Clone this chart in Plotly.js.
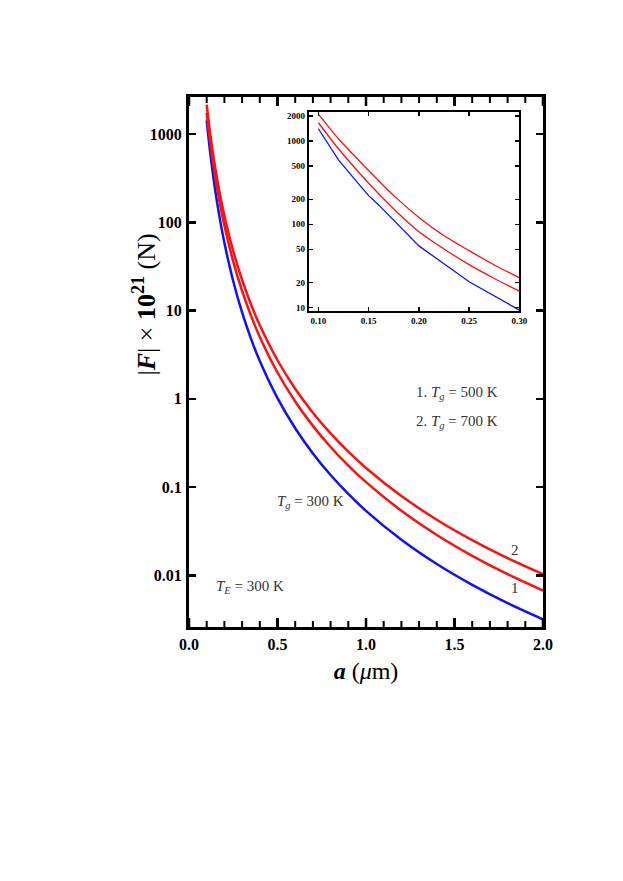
<!DOCTYPE html>
<html>
<head>
<meta charset="utf-8">
<script src="https://cdn.plot.ly/plotly-3.0.1.min.js"></script>
<style>
  html, body { margin: 0; padding: 0; background: #fff; }
  #chart { width: 623px; height: 881px; }
</style>
</head>
<body>
<div id="chart"></div>
<script>
// ---- main panel data: separation a (μm) and |F| x 10^21 (N) ----
const aMain = [0.10, 0.12, 0.14, 0.16, 0.18, 0.20, 0.25, 0.30, 0.35, 0.40, 0.50, 0.60, 0.70, 0.80, 0.90, 1.00, 1.20, 1.40, 1.60, 1.80, 2.00];
const fBlue300 = [1432, 611, 300, 162, 94.7, 58.7, 21.5, 9.53, 4.82, 2.68, 1.018, 0.4645, 0.241, 0.137, 0.0836, 0.0538, 0.0253, 0.01344, 0.00781, 0.00485, 0.00318];
const fRed500 = [1734, 798, 415, 236, 143, 91.9, 35.9, 16.7, 8.78, 5.03, 1.988, 0.934, 0.494, 0.2847, 0.1754, 0.1138, 0.0539, 0.0287, 0.01666, 0.01031, 0.00673];
const fRed700 = [2158, 1003, 526, 301, 184, 119, 47.2, 22.25, 11.8, 6.82, 2.737, 1.302, 0.697, 0.4055, 0.2522, 0.1648, 0.0792, 0.0427, 0.02505, 0.01566, 0.0103];

// ---- inset data ----
const aInsetBlue = [0.10, 0.12, 0.14, 0.15, 0.16, 0.18, 0.20, 0.25, 0.30];
const fInsetBlue = [1408, 596, 306, 221, 171, 96, 55, 20.4, 9.3];
const aInsetRed = [0.10, 0.12, 0.15, 0.175, 0.20, 0.225, 0.25, 0.275, 0.30];
const fInsetRed500 = [1663, 809, 312, 153, 81.6, 50.5, 32.7, 22.3, 15.7];
const fInsetRed700 = [2113, 1067, 443, 221, 121, 73, 48.2, 32.4, 22.7];

// ---- tick labels ----
const xMainTicks = [0, 0.5, 1.0, 1.5, 2.0];
const xMainTickText = ["0.0", "0.5", "1.0", "1.5", "2.0"];
const xMainMinor = [0.1, 0.2, 0.3, 0.4, 0.6, 0.7, 0.8, 0.9, 1.1, 1.2, 1.3, 1.4, 1.6, 1.7, 1.8, 1.9];
const yMainTicks = [0.01, 0.1, 1, 10, 100, 1000];
const yMainTickText = ["0.01", "0.1", "1", "10", "100", "1000"];
const xInsetTicks = [0.10, 0.15, 0.20, 0.25, 0.30];
const xInsetTickText = ["0.10", "0.15", "0.20", "0.25", "0.30"];
const yInsetTicks = [10, 20, 50, 100, 200, 500, 1000, 2000];
const yInsetTickText = ["10", "20", "50", "100", "200", "500", "1000", "2000"];

const BLUE = "#1010ff";
const RED = "#ff1010";
const serif = "Liberation Serif, DejaVu Serif, serif";
const lg = Math.log10;

// main axis ranges
const xRange = [0, 2];
const yRange = [lg(0.0026), lg(2630)];
const plotH = 881 - 97 - 254;
const decPx = plotH / (yRange[1] - yRange[0]);

// x tick marks along bottom and top edges, built from the tick arrays and the axis range
function tickTrace(vals, lenPx, w) {
  const xs = [], ys = [];
  const lo = Math.pow(10, yRange[0]), hi = Math.pow(10, yRange[1]);
  const k = Math.pow(10, lenPx / decPx);
  vals.forEach(v => {
    xs.push(v, v, null, v, v, null);
    ys.push(lo, lo * k, null, hi, hi / k, null);
  });
  return {x: xs, y: ys, mode: "lines", line: {color: "#000", width: w}, hoverinfo: "skip", cliponaxis: false, xaxis: "x", yaxis: "y"};
}

const traces = [
  {x: aMain, y: fBlue300, mode: "lines", line: {color: BLUE, width: 2.5, shape: "spline", smoothing: 1}, xaxis: "x", yaxis: "y"},
  {x: aMain, y: fRed500, mode: "lines", line: {color: RED, width: 2.5, shape: "spline", smoothing: 1}, xaxis: "x", yaxis: "y"},
  {x: aMain, y: fRed700, mode: "lines", line: {color: RED, width: 2.5, shape: "spline", smoothing: 1}, xaxis: "x", yaxis: "y"},
  tickTrace(xMainTicks, 9, 2.5),
  tickTrace(xMainMinor, 6, 2),
  {x: aInsetBlue, y: fInsetBlue, mode: "lines", line: {color: BLUE, width: 1.3}, xaxis: "x2", yaxis: "y2"},
  {x: aInsetRed, y: fInsetRed500, mode: "lines", line: {color: RED, width: 1.3, shape: "spline", smoothing: 0.6}, xaxis: "x2", yaxis: "y2"},
  {x: aInsetRed, y: fInsetRed700, mode: "lines", line: {color: RED, width: 1.3, shape: "spline", smoothing: 0.6}, xaxis: "x2", yaxis: "y2"}
];

const annFont = {family: serif, size: 15, color: "#333"};
const layout = {
  width: 623, height: 881,
  margin: {l: 189, r: 80, t: 97, b: 254},
  paper_bgcolor: "#fff", plot_bgcolor: "#fff",
  showlegend: false,
  xaxis: {
    domain: [0, 1], range: xRange,
    tickvals: xMainTicks, ticktext: xMainTickText,
    ticks: "inside", ticklen: 9, tickwidth: 2.5, tickcolor: "#000",
    showline: true, linewidth: 3, linecolor: "#000", mirror: "allticks",
    showgrid: false, zeroline: false,
    tickfont: {family: serif, size: 16, color: "#000", weight: "bold"},
    ticklabelstandoff: 1,
    title: {text: "<b><i>a</i></b> (<i>μ</i>m)", font: {family: serif, size: 24, color: "#000"}, standoff: 10}
  },
  yaxis: {
    domain: [0, 1], type: "log", range: yRange,
    tickvals: yMainTicks, ticktext: yMainTickText,
    ticks: "inside", ticklen: 7, tickwidth: 2.5, tickcolor: "#000",
    showline: true, linewidth: 3, linecolor: "#000", mirror: "allticks",
    showgrid: false, zeroline: false,
    tickfont: {family: serif, size: 16, color: "#000", weight: "bold"},
    ticklabelstandoff: 1,
    title: {text: ""}
  },
  xaxis2: {
    anchor: "y2", domain: [0.3385, 0.9334], range: [0.0905, 0.30],
    tickvals: xInsetTicks, ticktext: xInsetTickText,
    ticks: "inside", ticklen: 4, tickwidth: 1.5, tickcolor: "#000",
    showline: true, linewidth: 2, linecolor: "#000", mirror: "allticks",
    showgrid: false, zeroline: false,
    tickfont: {family: serif, size: 9, color: "#000", weight: "bold"}
  },
  yaxis2: {
    anchor: "x2", domain: [0.5958, 0.9717], type: "log", range: [0.955, 3.35],
    tickvals: yInsetTicks, ticktext: yInsetTickText,
    ticks: "inside", ticklen: 4, tickwidth: 1.5, tickcolor: "#000",
    showline: true, linewidth: 2, linecolor: "#000", mirror: "allticks",
    showgrid: false, zeroline: false,
    tickfont: {family: serif, size: 9, color: "#000", weight: "bold"}
  },
  annotations: [
    {text: "|<b><i>F</i></b>| × <b>10</b><sup><b>21</b></sup> (N)", textangle: -90,
     xref: "paper", yref: "paper", x: -0.125, y: 0.608, xanchor: "center", yanchor: "middle",
     showarrow: false, font: {family: serif, size: 26, color: "#000"}},
    {text: "<i>T</i><sub><i>E</i></sub> = 300 K", x: 0.144, y: lg(0.0074), xref: "x", yref: "y", xanchor: "left", yanchor: "middle", showarrow: false, font: annFont},
    {text: "<i>T</i><sub><i>g</i></sub> = 300 K", x: 0.484, y: lg(0.067), xref: "x", yref: "y", xanchor: "left", yanchor: "middle", showarrow: false, font: annFont},
    {text: "1. <i>T</i><sub><i>g</i></sub> = 500 K", x: 1.272, y: lg(1.15), xref: "x", yref: "y", xanchor: "left", yanchor: "middle", showarrow: false, font: annFont},
    {text: "2. <i>T</i><sub><i>g</i></sub> = 700 K", x: 1.272, y: lg(0.54), xref: "x", yref: "y", xanchor: "left", yanchor: "middle", showarrow: false, font: annFont},
    {text: "2", x: 1.844, y: lg(0.0196), xref: "x", yref: "y", xanchor: "center", yanchor: "middle", showarrow: false, font: annFont},
    {text: "1", x: 1.844, y: lg(0.0071), xref: "x", yref: "y", xanchor: "center", yanchor: "middle", showarrow: false, font: annFont}
  ]
};

Plotly.newPlot("chart", traces, layout, {staticPlot: true, displayModeBar: false});
</script>
</body>
</html>
